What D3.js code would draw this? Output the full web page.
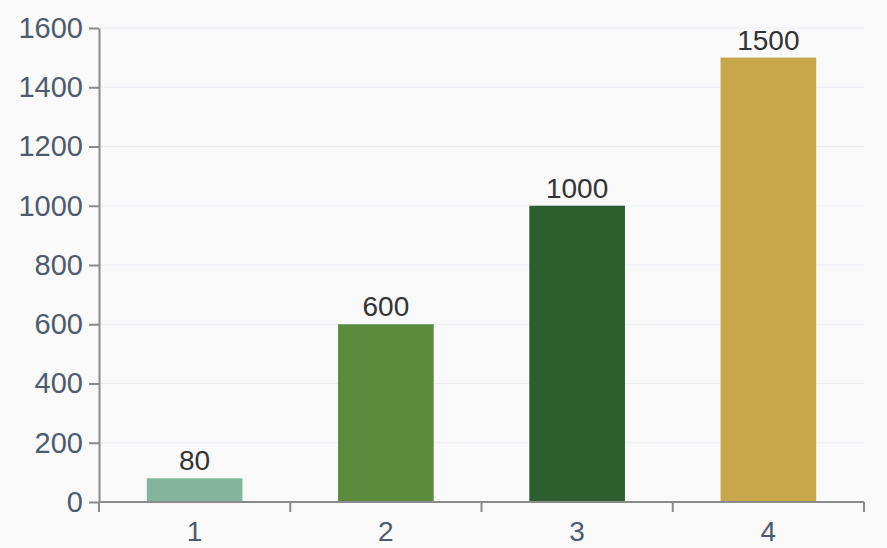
<!DOCTYPE html>
<html><head><meta charset="utf-8">
<script src="https://cdn.jsdelivr.net/npm/d3@7"></script>
<style>
html,body{margin:0;padding:0;background:#f9f9f9;}
svg{display:block;}
</style></head>
<body>
<svg id="chart" width="887" height="548"></svg>
<script>
const categories = ["1","2","3","4"];
const values = [80, 600, 1000, 1500];
const barColors = ["#83b59c","#5a8a3c","#2d5e2e","#c8a64a"];
const yTicks = [0,200,400,600,800,1000,1200,1400,1600];

const W = 887, H = 548;
const m = {left: 99, right: 23, top: 28, bottom: 46};
const svg = d3.select("#chart");
svg.append("rect").attr("width",W).attr("height",H).attr("fill","#f9f9f9");

const x = d3.scaleBand().domain(categories).range([m.left, W - m.right]).paddingInner(0.5).paddingOuter(0.25);
const y = d3.scaleLinear().domain([0,1600]).range([H - m.bottom, m.top]);
const font = "'Liberation Sans', Arial, sans-serif";

// grid
svg.append("g").selectAll("line").data(yTicks.filter(d=>d>0)).join("line")
  .attr("x1", m.left+1).attr("x2", W - m.right)
  .attr("y1", d=>y(d)).attr("y2", d=>y(d))
  .attr("stroke","#e8edf2").attr("stroke-width",1);

// bars
svg.append("g").selectAll("rect").data(values).join("rect")
  .attr("x",(d,i)=>x(categories[i]))
  .attr("width", x.bandwidth())
  .attr("y", d=>y(d))
  .attr("height", d=>y(0)-y(d))
  .attr("fill",(d,i)=>barColors[i]);

// value labels
svg.append("g").selectAll("text").data(values).join("text")
  .attr("x",(d,i)=>x(categories[i]) + x.bandwidth()/2)
  .attr("y", d=>y(d)-8)
  .attr("text-anchor","middle")
  .attr("font-family", font).attr("font-size", 28)
  .attr("fill","#333")
  .text(d=>d);

// y axis
const yAxis = d3.axisLeft(y).tickValues(yTicks).tickFormat(d3.format("d")).tickSize(10).tickSizeOuter(0).tickPadding(6);
const gy = svg.append("g").attr("transform",`translate(${m.left},0)`).call(yAxis);
gy.select(".domain").attr("stroke","#8a8a8a").attr("stroke-width",2);
gy.selectAll(".tick line").attr("stroke","#8a8a8a").attr("stroke-width",2);
gy.selectAll(".tick text").attr("font-family",font).attr("font-size",29).attr("fill","#4e5a6e");

// x axis
const bandEdges = categories.map(c=>x(c) - x.step()*x.paddingInner()/2).concat([W - m.right]);
const gx = svg.append("g").attr("transform",`translate(0,${H - m.bottom})`);
gx.append("line").attr("x1", m.left).attr("x2", W - m.right).attr("stroke","#8a8a8a").attr("stroke-width",2);
gx.selectAll("line.tk").data(bandEdges).join("line").attr("class","tk")
  .attr("x1",d=>d).attr("x2",d=>d).attr("y1",0).attr("y2",10)
  .attr("stroke","#8a8a8a").attr("stroke-width",2);
gx.selectAll("text").data(categories).join("text")
  .attr("x", d=>x(d)+x.bandwidth()/2).attr("y", 39)
  .attr("text-anchor","middle")
  .attr("font-family",font).attr("font-size",28).attr("fill","#4e5a6e")
  .text(d=>d);
</script>
</body></html>
